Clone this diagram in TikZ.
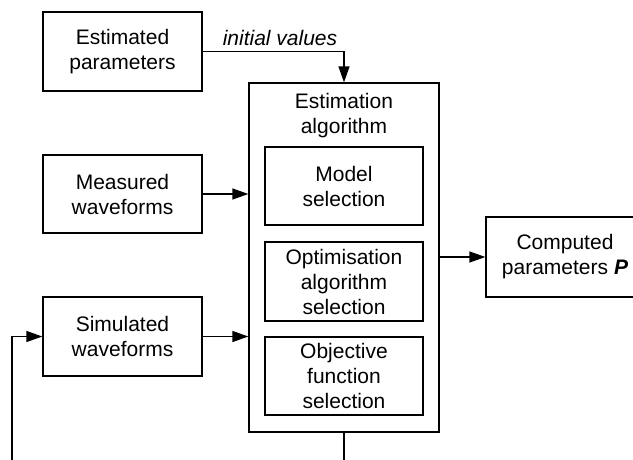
\documentclass[tikz,border=0pt]{standalone}
\usepackage{fontspec}
\setmainfont{Liberation Sans}
\usetikzlibrary{arrows.meta}
\begin{document}
\begin{tikzpicture}[x=1pt,y=-1pt,
 box/.style={draw,line width=1.3pt,align=center,inner sep=0pt,font=\fontsize{21}{25}\selectfont},
 txt/.style={align=center,inner sep=0pt,font=\fontsize{21}{25}\selectfont},
 arr/.style={line width=1.3pt,-{Triangle[length=16pt,width=11pt]}}]
\useasboundingbox (0,0) rectangle (633,459);
\clip (0,0) rectangle (633,459);
\node[box,minimum width=159pt,minimum height=79pt] (est) at (122.5,51.5) {Estimated\\parameters};
\node[box,minimum width=159pt,minimum height=78pt] (meas) at (122.5,194) {Measured\\waveforms};
\node[box,minimum width=159pt,minimum height=79pt] (sim) at (122.5,336.5) {Simulated\\waveforms};
\node[box,minimum width=190pt,minimum height=349pt] (main) at (344,257.5) {};
\node[txt] (mainlbl) at (344,116) {Estimation\\algorithm};
\node[box,minimum width=158pt,minimum height=78pt] (model) at (344,186) {Model\\selection};
\node[box,minimum width=158pt,minimum height=79pt] (opt) at (344,281.5) {Optimisation\\algorithm\\selection};
\node[box,minimum width=158pt,minimum height=78pt] (obj) at (344,376) {Objective\\function\\selection};
\node[box,minimum width=158pt,minimum height=80pt] (comp) at (565,257) {Computed\\parameters \textbf{\textit{P}}};
\node[txt,anchor=base] (iv) at (280,45) {\textit{initial values}};
\coordinate (fb1) at (344,470);
\coordinate (fb2) at (12,470);
\draw[arr] (est.east) -| (main.north);
\draw[arr] (meas.east) -- (meas.east -| main.west);
\draw[arr] (sim.east) -- (sim.east -| main.west);
\draw[arr] (main.east |- comp.west) -- (comp.west);
\draw[arr] (main.south) -- (fb1) -- (fb2) |- (sim.west);
\end{tikzpicture}
\end{document}
